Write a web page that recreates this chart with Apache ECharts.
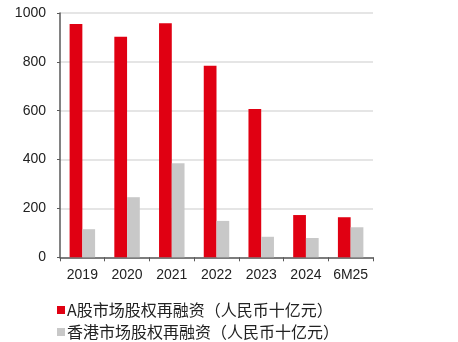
<!DOCTYPE html>
<html><head><meta charset="utf-8">
<script src="https://cdn.jsdelivr.net/npm/echarts@6/dist/echarts.min.js"></script>
<style>html,body{margin:0;padding:0;background:#fff}#c{width:458px;height:342px}</style>
</head><body><div id="c"></div>
<script>
const categories = ['2019','2020','2021','2022','2023','2024','6M25'];
const aShare = [955, 903, 958, 784, 607, 173, 164];
const hkShare = [115, 246, 385, 149, 84, 79, 123];
const seriesNames = ['A股市场股权再融资（人民币十亿元）','香港市场股权再融资（人民币十亿元）'];
const yTicks = {min:0, max:1000, interval:200};

const legendText = {fontSize:16, color:'#222', fontFamily:'"Noto Sans CJK SC", sans-serif', padding:[0,0,0,-3]};
const chart = echarts.init(document.getElementById('c'), null, {renderer:'canvas'});
chart.setOption({
  animation:false,
  grid:{left:60, top:13, width:313, height:244.3},
  legend:[
    {left:52, top:297, itemWidth:8, itemHeight:8, icon:'rect', textStyle:legendText, data:[seriesNames[0]]},
    {left:52, top:319, itemWidth:8, itemHeight:8, icon:'rect', textStyle:legendText, data:[seriesNames[1]]}
  ],
  xAxis:{
    type:'category', data:categories,
    axisLine:{lineStyle:{color:'#595959', width:1.5}},
    axisTick:{show:true, length:4, lineStyle:{color:'#595959'}},
    axisLabel:{interval:0, fontSize:14, color:'#222', margin:11, fontFamily:'"Liberation Sans", Arial, sans-serif'}
  },
  yAxis:{
    type:'value', min:yTicks.min, max:yTicks.max, interval:yTicks.interval,
    axisLine:{show:true, lineStyle:{color:'#595959', width:1.5}},
    axisTick:{show:true, length:3, lineStyle:{color:'#595959'}},
    axisLabel:{fontSize:14, color:'#222', margin:14, fontFamily:'"Liberation Sans", Arial, sans-serif', formatter:v=>String(v)},
    splitLine:{lineStyle:{color:'#dcdcdc', width:1.5}}
  },
  series:[
    {name:seriesNames[0], type:'bar', data:aShare, barGap:'0%', barCategoryGap:'43%', itemStyle:{color:'#e00012'}},
    {name:seriesNames[1], type:'bar', data:hkShare, itemStyle:{color:'#c8c8c8'}}
  ]
});
</script></body></html>
